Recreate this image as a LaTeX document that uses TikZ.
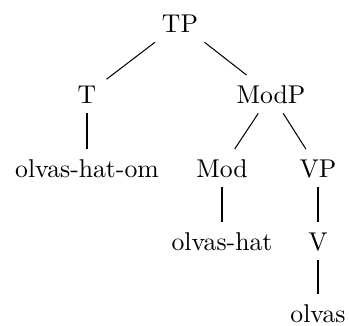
\documentclass[tikz,border=0pt]{standalone}
\begin{document}
\begin{tikzpicture}[x=0.389pt,y=-0.389pt,
  lbl/.style={anchor=base,inner sep=3.8pt,text height=6.9pt,text depth=0pt},
  edge/.style={draw,line width=0.4pt}]
\useasboundingbox (0,0) rectangle (349,325);
\node[lbl] (TP) at (180,32) {TP};
\node[lbl] (T) at (87,103) {T};
\node[lbl] (ModP) at (271,103) {ModP};
\node[lbl] (ohom) at (87,177) {olvas-hat-om};
\node[lbl] (Mod) at (222,177) {Mod};
\node[lbl] (VP) at (318,177) {VP};
\node[lbl] (oh) at (222,250) {olvas-hat};
\node[lbl] (V) at (318,250) {V};
\node[lbl] (o) at (318,322) {olvas};
\draw[edge] (TP) -- (T);
\draw[edge] (TP) -- (ModP);
\draw[edge] (T) -- (ohom);
\draw[edge] (ModP) -- (Mod);
\draw[edge] (ModP) -- (VP);
\draw[edge] (Mod) -- (oh);
\draw[edge] (VP) -- (V);
\draw[edge] (V) -- (o);
\end{tikzpicture}
\end{document}
